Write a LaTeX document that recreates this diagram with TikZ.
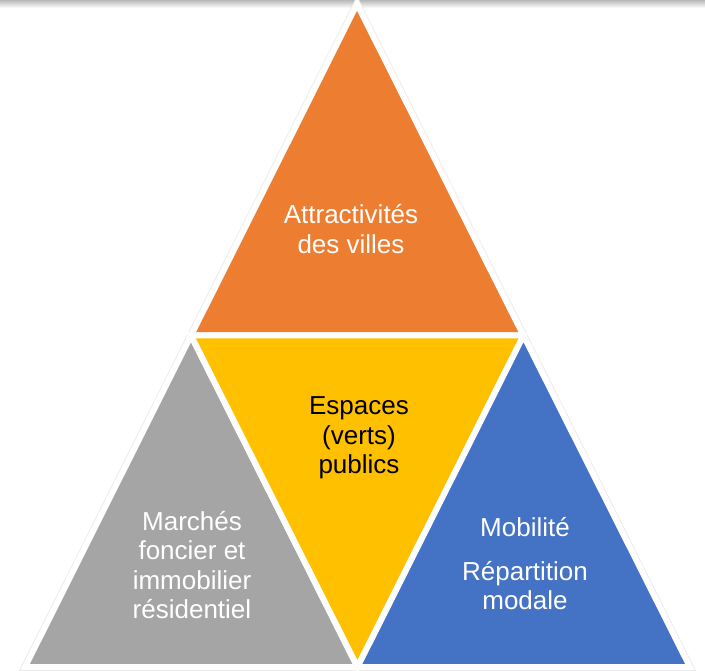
\documentclass[tikz,border=0pt]{standalone}
\usepackage{fontspec}
\setmainfont{Liberation Sans}
\definecolor{attrorange}{HTML}{ED7D31}
\definecolor{espyellow}{HTML}{FFC000}
\definecolor{margray}{HTML}{A5A5A5}
\definecolor{mobblue}{HTML}{4472C4}
\begin{document}
\begin{tikzpicture}[x=1pt,y=-1pt,
    piece/.style={draw=white, line width=6pt},
    lbl/.style={align=center, font=\fontsize{26}{29.5}\selectfont, inner sep=0pt}]

    \useasboundingbox (0,0) rectangle (705,671);
    \shade[top color=gray!55, bottom color=white] (0,0) rectangle (705,8);

    \coordinate (A) at (357,4);
    \coordinate (L) at (25,667);
    \coordinate (R) at (690,667);
    \coordinate (ML) at (191,335.5);
    \coordinate (MR) at (523.5,335.5);
    \coordinate (MB) at (357.5,667);

    % outer rim
    \draw[gray!18, line width=7.5pt] (A) -- (L) -- (R) -- cycle;

    \filldraw[piece, fill=attrorange] (A) -- (ML) -- (MR) -- cycle;
    \filldraw[piece, fill=margray] (ML) -- (L) -- (MB) -- cycle;
    \filldraw[piece, fill=espyellow] (ML) -- (MR) -- (MB) -- cycle;
    \filldraw[piece, fill=mobblue] (MR) -- (MB) -- (R) -- cycle;

    \node[lbl, text=white] (attr) at (351,229) {Attractivités\\des villes};
    \node[lbl, text=black] (esp) at (359,438) {Espaces\\(verts)\\publics};
    \node[lbl, text=white] (march) at (192,565) {Marchés\\foncier et\\immobilier\\résidentiel};
    \node[lbl, text=white] (mob) at (525,564) {Mobilité\\[14pt]Répartition\\modale};
\end{tikzpicture}
\end{document}
